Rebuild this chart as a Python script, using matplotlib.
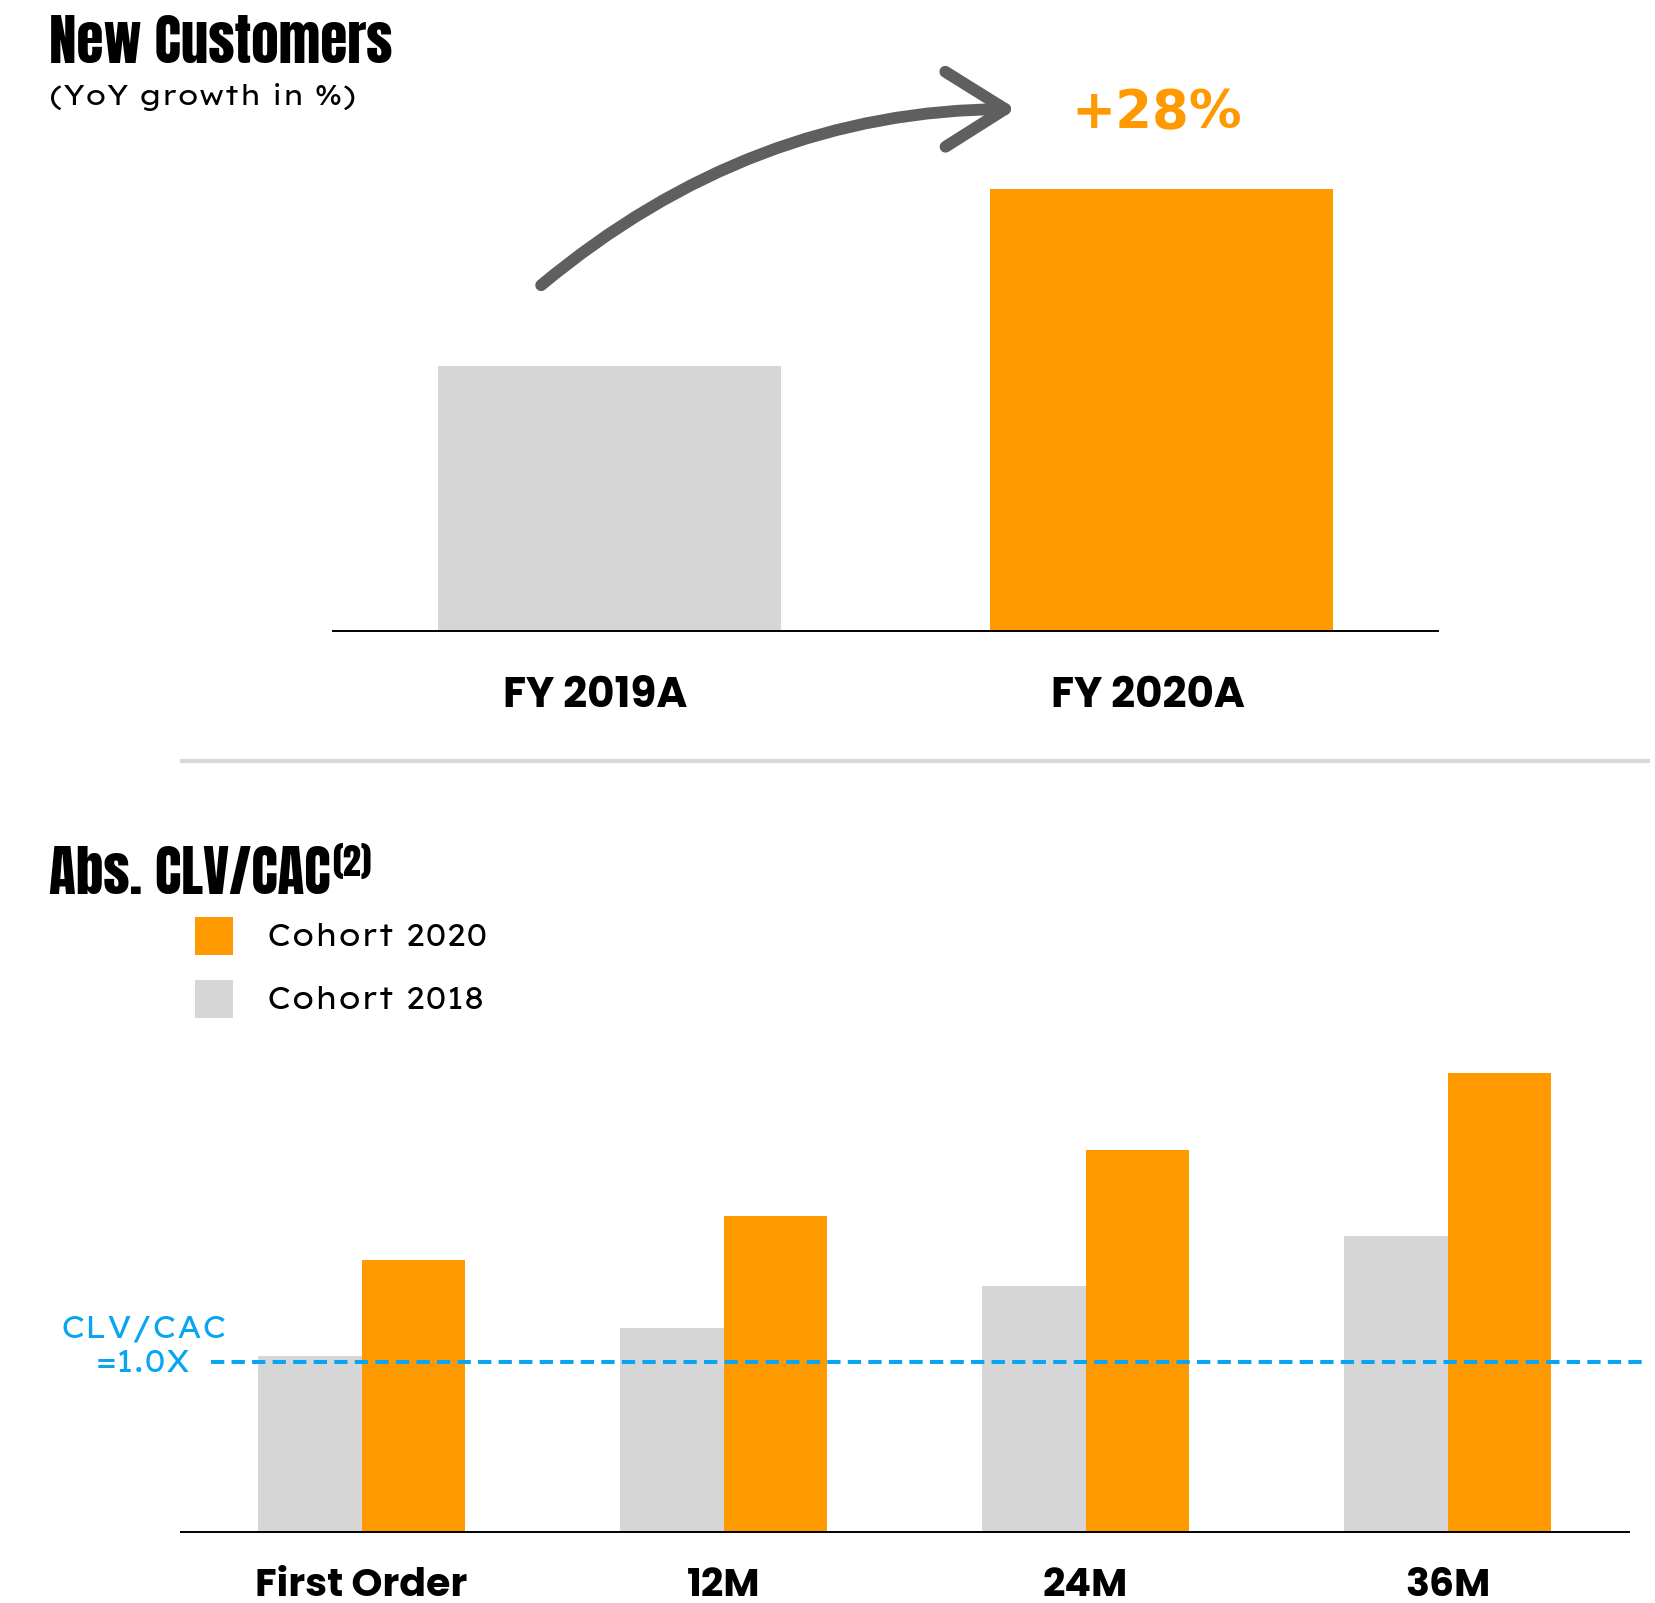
import matplotlib

matplotlib.use("Agg")
import matplotlib.pyplot as plt
import numpy as np
from matplotlib import font_manager
from matplotlib.lines import Line2D
from matplotlib.patches import FancyArrowPatch
from matplotlib.transforms import blended_transform_factory


def pick_font(names, weight):
    faces = {(f.name, f.weight) for f in font_manager.fontManager.ttflist}
    for n in names:
        if (n, weight) in faces:
            return n
    return "DejaVu Sans"


HEAD_FONT = pick_font(["Oswald", "Anton", "Fjalla One"], 700)
if HEAD_FONT == "DejaVu Sans":
    HEAD_FONT = pick_font(["Anton", "Fjalla One", "Oswald"], 400)
BODY_FONT = pick_font(["Lexend Exa", "Sora", "Lexend", "Poppins"], 400)
BOLD_FONT = pick_font(["Lexend Exa", "Sora", "Lexend", "Poppins"], 700)
plt.rcParams["font.family"] = [BODY_FONT, "DejaVu Sans"]

ORANGE = "#FF9900"
GREY = "#D6D6D6"
BLUE = "#0AA5F2"
ARROW = "#5F5F5F"

# New customers (index, FY 2019A = 100)
years = ["FY 2019A", "FY 2020A"]
new_customers = [100, 167]
growth_label = "+28%"

# Abs. CLV/CAC by cohort age
horizons = ["First Order", "12M", "24M", "36M"]
cohort_2018 = [1.04, 1.20, 1.45, 1.74]
cohort_2020 = [1.60, 1.86, 2.25, 2.70]
breakeven = 1.0

W, H = 1656, 1603


def fx(px):
    return px / W


def fy(py):
    return 1 - py / H


def size_for(fig, s, target_px, base=20, **kw):
    # font size (pt) that makes string s span target_px pixels
    t = fig.text(0, 0, s, fontsize=base, **kw)
    w = t.get_window_extent(fig.canvas.get_renderer()).width
    t.remove()
    return base * target_px / w


def style_axis(ax):
    ax.set_yticks([])
    ax.set_xticks([])
    for s in ["top", "left", "right"]:
        ax.spines[s].set_visible(False)
    ax.spines["bottom"].set_linewidth(1.4)


def main():
    fig = plt.figure(figsize=(W / 100, H / 100), dpi=100)
    head = dict(family=[HEAD_FONT, "DejaVu Sans"], fontweight="bold")
    bold = dict(family=[BOLD_FONT, "DejaVu Sans"], fontweight="bold")

    fs_title = size_for(fig, "New Customers", 343, **head)
    fs_sub = size_for(fig, "(YoY growth in %)", 307)
    fs_year = size_for(fig, years[0], 185, **bold)
    fs_cat = size_for(fig, horizons[0], 212, **bold)
    fs_leg = size_for(fig, "Cohort 2020", 220)
    fs_ref = size_for(fig, "CLV/CAC", 167)

    # --- top panel: new customers
    ax1 = fig.add_axes([fx(333), fy(630.5), fx(1105), 0.30])
    x1 = np.arange(len(years))
    ax1.bar(x1, new_customers, width=0.62, color=[GREY, ORANGE])
    ax1.set_xlim(-0.5, 1.5)
    ax1.set_ylim(0, 182)
    style_axis(ax1)
    tr1 = blended_transform_factory(ax1.transData, fig.transFigure)
    for xi, lab in zip(x1, years):
        ax1.text(xi - 0.025, fy(706.5), lab, transform=tr1, ha="center", va="baseline",
                 fontsize=fs_year, **bold)

    fig.text(fx(49), fy(63), "New Customers", fontsize=fs_title, va="baseline", **head)
    fig.text(fx(49), fy(105), "(YoY growth in %)", fontsize=fs_sub, va="baseline")
    fig.text(fx(1157), fy(128), growth_label, color=ORANGE, family="DejaVu Sans",
             fontsize=38, fontweight="bold", ha="center", va="baseline")

    arrow = FancyArrowPatch(
        (fx(539), fy(287)), (fx(1019), fy(109)),
        transform=fig.transFigure,
        connectionstyle="angle3,angleA=40,angleB=0",
        arrowstyle="->,head_length=0.43,head_width=0.27",
        mutation_scale=100, lw=8.5, color=ARROW,
        capstyle="round", joinstyle="round",
    )
    fig.add_artist(arrow)

    fig.add_artist(Line2D([fx(182), fx(1648)], [fy(760.5)] * 2, color="#D9D9D9", lw=3))

    # --- bottom panel: CLV/CAC
    ax2 = fig.add_axes([fx(180.6), fy(1532.4), fx(1447.9), 0.3321])
    x2 = np.arange(len(horizons))
    bw = 0.286
    b18 = ax2.bar(x2 - bw / 2, cohort_2018, width=bw, color=GREY, label="Cohort 2018")
    b20 = ax2.bar(x2 + bw / 2, cohort_2020, width=bw, color=ORANGE, label="Cohort 2020")
    ax2.axhline(breakeven, xmin=0.021, xmax=1.01, color=BLUE, lw=2.9,
                dashes=(3.3, 1.8), clip_on=False, zorder=5)
    ax2.set_xlim(-0.5, 3.5)
    ax2.set_ylim(0, 3.13)
    style_axis(ax2)
    tr2 = blended_transform_factory(ax2.transData, fig.transFigure)
    for xi, lab in zip(x2, horizons):
        ax2.text(xi, fy(1596), lab, transform=tr2, ha="center", va="baseline",
                 fontsize=fs_cat, **bold)

    fig.text(fx(143.6), fy(1347), "CLV/CAC\n=1.0X", color=BLUE, fontsize=fs_ref,
             ha="center", va="center", multialignment="center", linespacing=1.2)

    title = fig.text(fx(49), fy(893.5), "Abs. CLV/CAC", fontsize=fs_title, va="baseline", **head)
    ax2.annotate("(2)", xy=(1, 1), xycoords=title, xytext=(1, 1), textcoords="offset points",
                 ha="left", va="top", fontsize=fs_title * 0.66, annotation_clip=False, **head)

    # square legend keys, 38 px wide, rows 63 px apart
    fpx = fs_leg * 100 / 72
    ax2.legend([b20, b18], ["Cohort 2020", "Cohort 2018"], loc="upper left",
               bbox_to_anchor=(fx(195), fy(917)), bbox_transform=fig.transFigure,
               frameon=False, fontsize=fs_leg, handlelength=38 / fpx,
               handleheight=(38 / fpx - 0.245) / 0.65, handletextpad=34 / fpx,
               labelspacing=25 / fpx, borderpad=0, borderaxespad=0)

    fig.savefig("out.png", dpi=100)


if __name__ == "__main__":
    main()
